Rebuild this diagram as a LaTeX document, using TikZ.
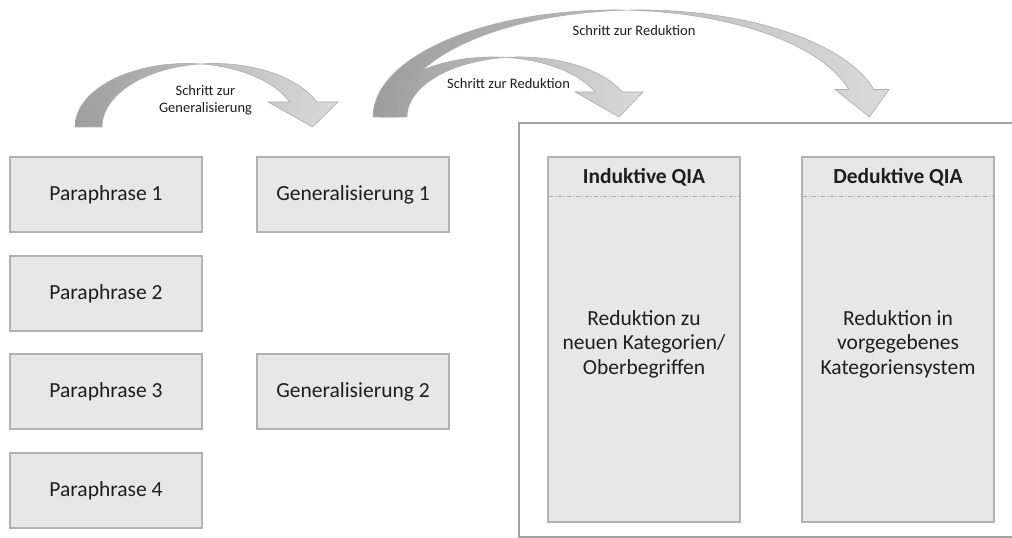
\documentclass[tikz,border=0pt]{standalone}
\usepackage{fontspec}
\setmainfont{Carlito}
\definecolor{boxfill}{HTML}{E7E7E7}
\definecolor{boxline}{HTML}{B2B2B2}
\definecolor{frameline}{HTML}{A3A3A3}
\definecolor{txt}{HTML}{1E1E1E}
\definecolor{arrdark}{HTML}{9E9E9E}
\definecolor{arrlight}{HTML}{DADADA}
\definecolor{arrline}{HTML}{ADADAD}
\definecolor{sepline}{HTML}{A8A8A8}
\begin{document}
\begin{tikzpicture}[x=1pt,y=1pt,
  box/.style={draw=boxline, fill=boxfill, line width=1.2pt, minimum width=192pt,
    minimum height=75pt, inner sep=0pt, text=txt, font=\fontsize{21.5}{25}\selectfont},
  tallbox/.style={box, minimum height=365pt},
  header/.style={inner sep=0pt, text=txt, font=\bfseries\fontsize{21.5}{25}\selectfont},
  bodytext/.style={inner sep=0pt, text=txt, align=center, font=\fontsize{21.5}{24.5}\selectfont},
  steplabel/.style={inner sep=0pt, text=txt, align=center, font=\fontsize{14.5}{16.5}\selectfont},
  ribbon/.style={draw=arrline, line width=0.6pt, left color=arrdark, right color=arrlight},
  frame/.style={draw=frameline, line width=2pt},
  divider/.style={draw=sepline, line width=0.8pt, dash pattern=on 4pt off 2pt on 1pt off 2pt}]
\useasboundingbox (0,0) rectangle (1012,538);
\clip (0,0) rectangle (1012,538);
\fill[white] (0,0) rectangle (1012,538);

% outer frame around the two analysis types (runs past the right edge)
\draw[frame] (519,1) rectangle (1040,415);

% paraphrases and generalisations
\node[box] (p1) at (106,343.5) {Paraphrase 1};
\node[box] (p2) at (106,244.5) {Paraphrase 2};
\node[box] (p3) at (106,146.5) {Paraphrase 3};
\node[box] (p4) at (106,47.5)  {Paraphrase 4};
\node[box] (g1) at (353,343.5) {Generalisierung 1};
\node[box] (g2) at (353,146.5) {Generalisierung 2};

% inductive / deductive columns
\node[tallbox] (ind) at (644,339.5-141) {};
\node[tallbox] (ded) at (898,339.5-141) {};
\node[header] (indh) at (644,361) {Induktive QIA};
\node[header] (dedh) at (898,361) {Deduktive QIA};
\draw[divider] (549,342) -- (739,342);
\draw[divider] (803,342) -- (993,342);
\node[bodytext] (indb) at (644,194) {Reduktion zu\\neuen Kategorien/\\Oberbegriffen};
\node[bodytext] (dedb) at (898,194) {Reduktion in\\vorgegebenes\\Kategoriensystem};

% curved block arrows: two offset ellipse arcs plus a head
\path[ribbon] (75,411)
  arc[start angle=180, end angle=23.18, x radius=112pt, y radius=63.5pt]
  -- (268,436) -- (312.5,411) -- (338,436) -- (316.96,436)
  arc[start angle=23.18, end angle=180, x radius=112pt, y radius=63.5pt] -- cycle;

\path[ribbon] (380,421)
  arc[start angle=180, end angle=24.62, x radius=112.75pt, y radius=60pt]
  -- (575,446) -- (619,421) -- (643,446) -- (622.25,446)
  arc[start angle=24.62, end angle=180, x radius=112.75pt, y radius=60pt] -- cycle;

\path[ribbon] (373,421)
  arc[start angle=180, end angle=14.89, x radius=242pt, y radius=107pt]
  -- (835,448.5) -- (869.5,421) -- (889,448.5) -- (873.9,448.5)
  arc[start angle=14.89, end angle=180, x radius=242pt, y radius=107pt] -- cycle;

% arrow captions
\node[steplabel] (lg) at (205.5,438) {Schritt zur\\Generalisierung};
\node[steplabel] (lr1) at (508.5,454) {Schritt zur Reduktion};
\node[steplabel] (lr2) at (634,507) {Schritt zur Reduktion};
\end{tikzpicture}
\end{document}
